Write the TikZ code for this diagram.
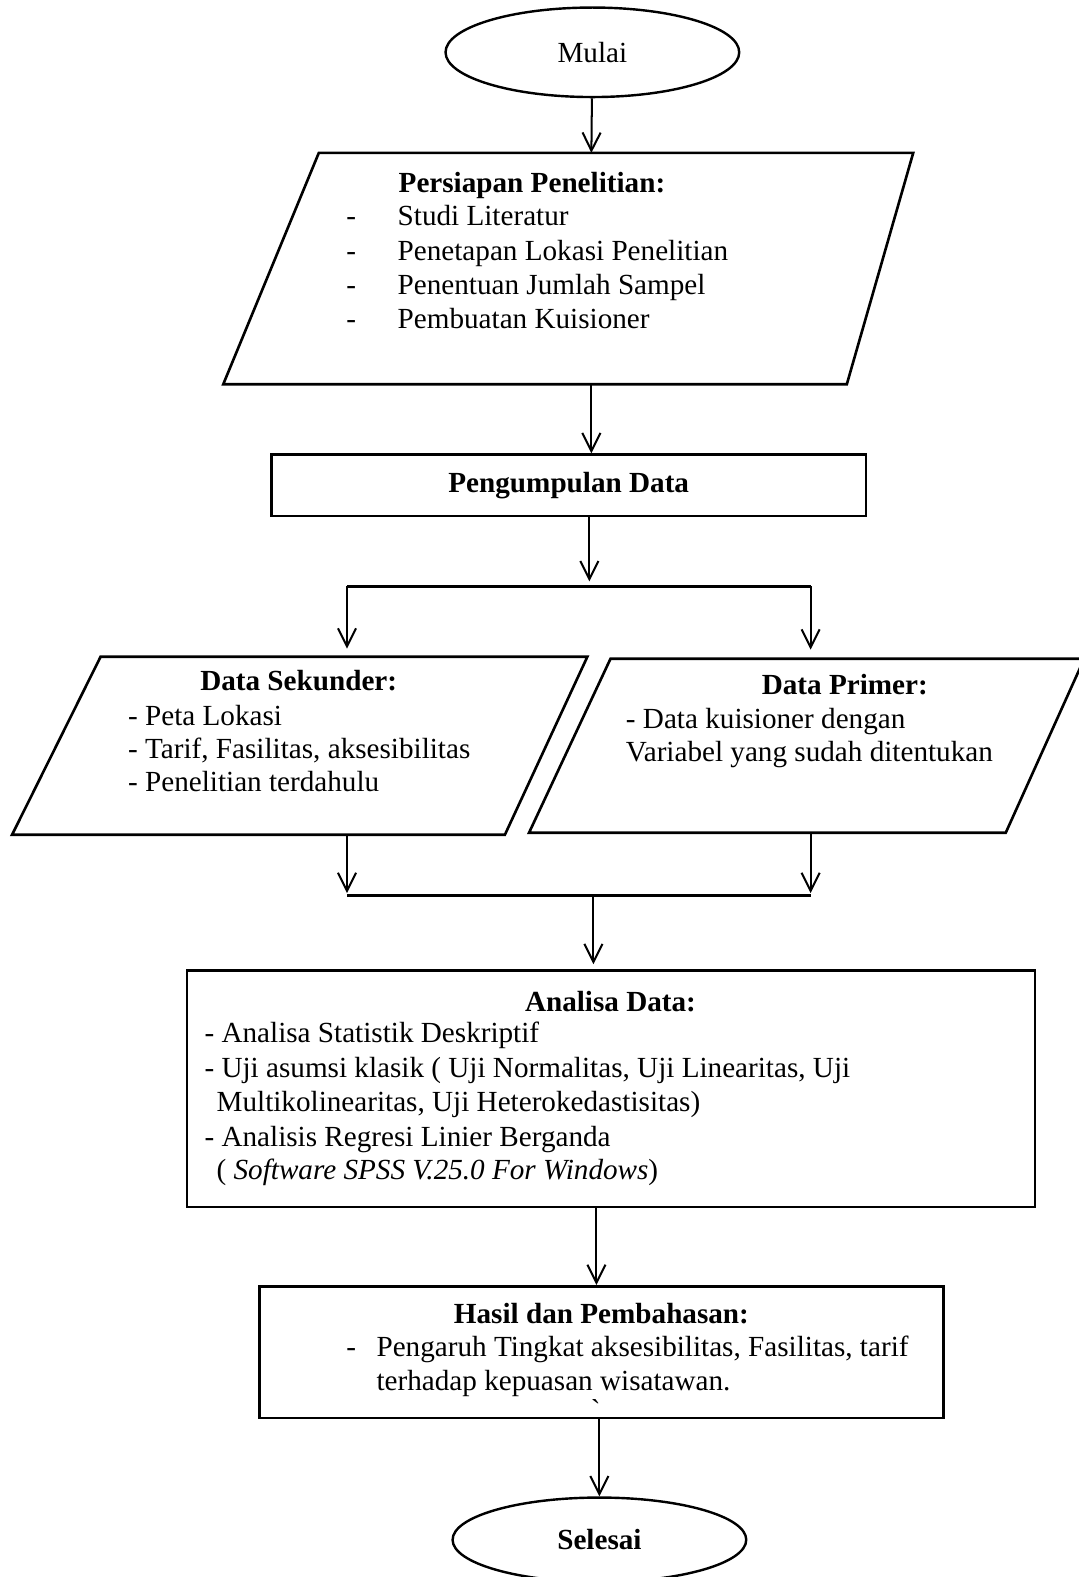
\documentclass[tikz,border=0pt]{standalone}
\usepackage{fontspec}
\setmainfont{Liberation Serif}
\usetikzlibrary{arrows.meta,shapes.geometric}

\begin{document}
\begin{tikzpicture}[x=0.5pt, y=-0.5pt, font=\fontsize{14.5}{17}\selectfont,
	panah/.style={line width=1pt, -{Straight Barb[length=9pt,width=9pt]}},
	garis/.style={line width=1.6pt},
	kotak/.style={draw, line width=1.3pt, rectangle, inner sep=0pt},
	bulat/.style={draw, line width=1.2pt, ellipse, inner sep=0pt, minimum width=146pt},
	teks/.style={anchor=base west, inner sep=0pt}]
		\useasboundingbox (0,0) rectangle (1072,1568);
		
		%mulai
		\node[bulat, minimum height=44.5pt] (mulai) at (589,52){Mulai};
		
		%persiapan
		\draw[line width=1.3pt] (317,152) -- (908,152) -- (842,382) -- (222,382) -- cycle;
		\coordinate (siap-t) at (588,152);
		\coordinate (siap-b) at (588,382);
		\node[teks] (siap) at (396,191){\bfseries Persiapan Penelitian:};
		\foreach \y/\isi in {224/Studi Literatur, 259/Penetapan Lokasi Penelitian, 293/Penentuan Jumlah Sampel, 327/Pembuatan Kuisioner}{
			\node[teks] (siap-d\y) at (344,\y){-};
			\node[teks] (siap-s\y) at (395,\y){\isi};
		}
		\draw[panah] (mulai) -- (siap-t);
		
		%pengumpulan
		\node[kotak, minimum width=295.5pt, minimum height=30.5pt] (kumpul) at (565.5,482.5){\bfseries Pengumpulan Data};
		\draw[panah] (siap-b) -- (siap-b |- kumpul.north);
		
		\coordinate (cabang) at (586,583);
		\coordinate (cabang-l) at (345,583);
		\coordinate (cabang-r) at (806,583);
		\draw[panah, shorten >=2.5pt] (kumpul.south -| cabang) -- (cabang);
		\draw[garis] (cabang-l) -- (cabang-r);
		
		%data sekunder
		\draw[line width=1.3pt] (100,653) -- (584,653) -- (502,830) -- (12,830) -- cycle;
		\coordinate (sek-t) at (345,653);
		\coordinate (sek-b) at (345,830);
		\node[anchor=base, inner sep=0pt] (sek) at (297,687){\bfseries Data Sekunder:};
		\foreach \y/\isi in {721/- Peta Lokasi, 754/{- Tarif, Fasilitas, aksesibilitas}, 787/- Penelitian terdahulu}{
			\node[teks] (sek-\y) at (127,\y){\isi};
		}
		
		%data primer
		\draw[line width=1.3pt] (607,655) -- (1078,655) -- (1000,828) -- (526,828) -- cycle;
		\coordinate (prim-t) at (806,655);
		\coordinate (prim-b) at (806,828);
		\node[anchor=base, inner sep=0pt] (prim) at (840,691){\bfseries Data Primer:};
		\node[teks] (prim-1) at (622,724){- Data kuisioner dengan};
		\node[teks] (prim-2) at (622,757){Variabel yang sudah ditentukan};
		
		\draw[panah, shorten >=4pt] (cabang-l) -- (sek-t);
		\draw[panah, shorten >=4.5pt] (cabang-r) -- (prim-t);
		
		\coordinate (gabung) at (590,890);
		\coordinate (gabung-l) at (345,890);
		\coordinate (gabung-r) at (806,890);
		\draw[panah, shorten >=1pt] (sek-b) -- (gabung-l);
		\draw[panah, shorten >=1pt] (prim-b) -- (gabung-r);
		\draw[garis] (gabung-l) -- (gabung-r);
		
		%analisa
		\node[kotak, minimum width=421.5pt, minimum height=117.5pt] (analisa) at (607.5,1082.5){};
		\draw[panah, shorten >=2.5pt] (gabung) -- (gabung |- analisa.north);
		\node[anchor=base, inner sep=0pt] (analisa-j) at (607,1006){\bfseries Analisa Data:};
		\node[teks] (analisa-1) at (203,1037){- Analisa Statistik Deskriptif};
		\node[teks] (analisa-2) at (203,1071){- Uji asumsi klasik ( Uji Normalitas, Uji Linearitas, Uji};
		\node[teks] (analisa-3) at (215,1105){Multikolinearitas, Uji Heterokedastisitas)};
		\node[teks] (analisa-4) at (203,1140){- Analisis Regresi Linier Berganda};
		\node[teks] (analisa-5) at (215,1173){( \textit{Software SPSS V.25.0 For Windows})};
		
		%hasil
		\node[kotak, minimum width=340pt, minimum height=65.5pt] (hasil) at (598,1344.5){};
		\coordinate (turun) at (593,1200);
		\draw[panah] (turun) -- (turun |- hasil.north);
		\node[anchor=base, inner sep=0pt] (hasil-j) at (598,1316){\bfseries Hasil dan Pembahasan:};
		\node[teks] (hasil-d) at (344,1349){-};
		\node[teks] (hasil-1) at (374,1349){Pengaruh Tingkat aksesibilitas, Fasilitas, tarif};
		\node[teks] (hasil-2) at (374,1383){terhadap kepuasan wisatawan.};
		\node[inner sep=0pt] (hasil-t) at (593,1404){\`{}};
		
		%selesai
		\node[bulat, minimum height=42pt] (selesai) at (596,1531){\bfseries Selesai};
		\draw[panah] (hasil.south -| selesai) -- (selesai);
		\end{tikzpicture}
\end{document}
